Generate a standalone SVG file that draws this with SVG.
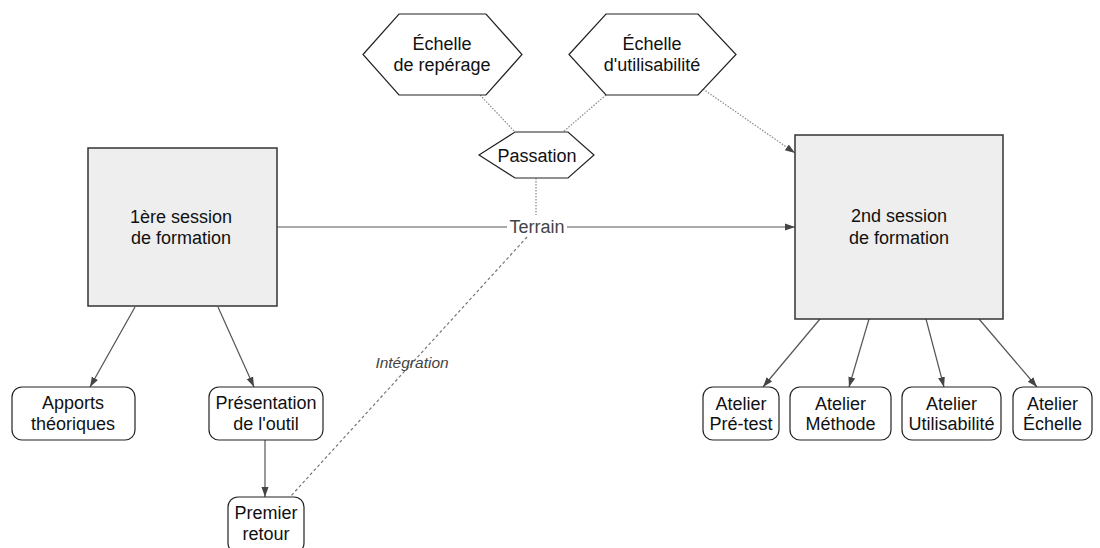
<svg xmlns="http://www.w3.org/2000/svg" width="1100" height="548" viewBox="0 0 1100 548">
<style>
.big{fill:#eeeeee;stroke:#333;stroke-width:1.5}
.hex{fill:#fff;stroke:#222;stroke-width:1.2}
.rnd{fill:#fff;stroke:#222;stroke-width:1.2}
text{font-family:"Liberation Sans",Arial,sans-serif;font-size:18px;fill:#111;text-anchor:middle}
.lbl{fill:#444}
.it{font-style:italic;font-size:15.5px;fill:#444}
.solid{stroke:#555;stroke-width:1.2;fill:none}
.dot{stroke:#888;stroke-width:1.2;stroke-dasharray:1.5,1.5;fill:none}
.dash{stroke:#777;stroke-width:1.2;stroke-dasharray:3,2.5;fill:none}
</style>
<defs>
<marker id="ah" viewBox="0 0 10 10" refX="10" refY="5" markerWidth="10" markerHeight="10" markerUnits="userSpaceOnUse" orient="auto">
<path d="M0,1.5 L10,5 L0,8.5 z" fill="#444"/>
</marker>
</defs>
<rect width="1100" height="548" fill="#fff"/>
<g id="connectors">
<line class="solid" x1="277" y1="227" x2="507" y2="227"/>
<line class="solid" x1="567" y1="227" x2="795" y2="227" marker-end="url(#ah)"/>
<line class="dot" x1="480" y1="95" x2="515" y2="132"/>
<line class="dot" x1="606" y1="95" x2="563" y2="132"/>
<line class="dot" x1="703" y1="89" x2="795" y2="153" marker-end="url(#ah)"/>
<line class="dot" x1="536" y1="178" x2="536" y2="215"/>
<line class="dash" x1="527" y1="237" x2="290" y2="497"/>
<line class="solid" x1="135" y1="307" x2="90" y2="387" marker-end="url(#ah)"/>
<line class="solid" x1="218" y1="307" x2="254" y2="387" marker-end="url(#ah)"/>
<line class="solid" x1="265" y1="440" x2="265" y2="497" marker-end="url(#ah)"/>
<line class="solid" x1="820" y1="319" x2="763" y2="387" marker-end="url(#ah)"/>
<line class="solid" x1="869" y1="319" x2="849" y2="387" marker-end="url(#ah)"/>
<line class="solid" x1="926" y1="319" x2="944" y2="387" marker-end="url(#ah)"/>
<line class="solid" x1="979" y1="319" x2="1037" y2="387" marker-end="url(#ah)"/>
<text class="lbl" x="537" y="233">Terrain</text>
<text class="it" x="412" y="368">Intégration</text>
</g>
<g id="session1">
<rect class="big" x="88" y="148" width="189" height="158"/>
<text x="181" y="223">1ère session</text>
<text x="181" y="244">de formation</text>
</g>
<g id="session2">
<rect class="big" x="795" y="135" width="208" height="184"/>
<text x="899" y="222">2nd session</text>
<text x="899" y="244">de formation</text>
</g>
<g id="echelle-reperage">
<polygon class="hex" points="363,54.5 399,14 486,14 522,54.5 486,95 399,95"/>
<text x="442" y="50">Échelle</text>
<text x="442" y="71">de repérage</text>
</g>
<g id="echelle-utilisabilite">
<polygon class="hex" points="569,54.5 606,14 698,14 736,54.5 698,95 606,95"/>
<text x="652" y="50">Échelle</text>
<text x="652" y="71">d'utilisabilité</text>
</g>
<g id="passation">
<polygon class="hex" points="479,155 515,132 568,132 594,155 568,178 515,178"/>
<text x="537" y="162">Passation</text>
</g>
<g id="apports">
<rect class="rnd" x="12" y="387" width="123" height="53" rx="10"/>
<text x="73" y="409">Apports</text>
<text x="73" y="430">théoriques</text>
</g>
<g id="presentation">
<rect class="rnd" x="209" y="387" width="114" height="53" rx="10"/>
<text x="266" y="409">Présentation</text>
<text x="266" y="430">de l'outil</text>
</g>
<g id="premier-retour">
<rect class="rnd" x="228" y="497" width="76" height="56" rx="10"/>
<text x="266" y="519">Premier</text>
<text x="266" y="540">retour</text>
</g>
<g id="atelier-pretest">
<rect class="rnd" x="703" y="387" width="76" height="53" rx="10"/>
<text x="741" y="410">Atelier</text>
<text x="741" y="430">Pré-test</text>
</g>
<g id="atelier-methode">
<rect class="rnd" x="790" y="387" width="101" height="53" rx="10"/>
<text x="840.5" y="410">Atelier</text>
<text x="840.5" y="430">Méthode</text>
</g>
<g id="atelier-utilisabilite">
<rect class="rnd" x="902" y="387" width="99" height="53" rx="10"/>
<text x="951.5" y="410">Atelier</text>
<text x="951.5" y="430">Utilisabilité</text>
</g>
<g id="atelier-echelle">
<rect class="rnd" x="1013" y="387" width="79" height="53" rx="10"/>
<text x="1052.5" y="410">Atelier</text>
<text x="1052.5" y="430">Échelle</text>
</g>
</svg>
